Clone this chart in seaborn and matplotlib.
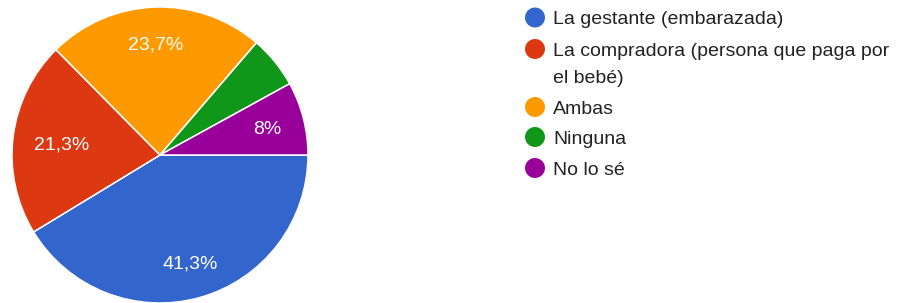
import matplotlib
matplotlib.use("Agg")
import matplotlib.pyplot as plt
import seaborn as sns
import numpy as np

categories = ["La gestante (embarazada)",
              "La compradora (persona que paga por\nel bebé)",
              "Ambas", "Ninguna", "No lo sé"]
values = [41.3, 21.3, 23.7, 5.7, 8.0]
pct_labels = ["41,3%", "21,3%", "23,7%", "", "8%"]
colors = sns.color_palette(["#3366CC", "#DC3912", "#FF9900", "#109618", "#990099"])

sns.set_theme(style="white")
plt.rcParams['font.family'] = ['Liberation Sans', 'DejaVu Sans']

W, H = 897, 303
fig = plt.figure(figsize=(W / 100, H / 100), dpi=100)

cx, cy, r = 160, 155, 148
ax = fig.add_axes([(cx - r) / W, (H - cy - r) / H, 2 * r / W, 2 * r / H])
wedges, _ = ax.pie(values, colors=colors, startangle=0, counterclock=False,
                   wedgeprops=dict(edgecolor="white", linewidth=1.1))
for w in wedges:
    w.set_clip_on(False)
label_dist = [0.75, 0.67, 0.76, 0.75, 0.75]
ang = 0.0
for v, lab, d in zip(values, pct_labels, label_dist):
    mid = ang - v / 100 * 360 / 2
    ang -= v / 100 * 360
    if lab:
        ax.text(d * np.cos(np.radians(mid)), d * np.sin(np.radians(mid)), lab,
                ha="center", va="center_baseline", color="white", fontsize=14)
ax.set_xlim(-1, 1)
ax.set_ylim(-1, 1)
ax.set_aspect("equal")
ax.axis("off")

# legend
lax = fig.add_axes([0, 0, 1, 1])
lax.set_xlim(0, W)
lax.set_ylim(H, 0)
lax.axis("off")
ys = [17.5, 49, 107, 137, 168]
for y, c, lab in zip(ys, colors, categories):
    lax.scatter([535], [y], s=207, color=c, edgecolors="none")
    for i, line in enumerate(lab.split("\n")):
        lax.text(553, y + 7 + 27 * i, line, ha="left", va="baseline", fontsize=14,
                 color="#222222")

fig.savefig("out.png", dpi=100, facecolor="white")
